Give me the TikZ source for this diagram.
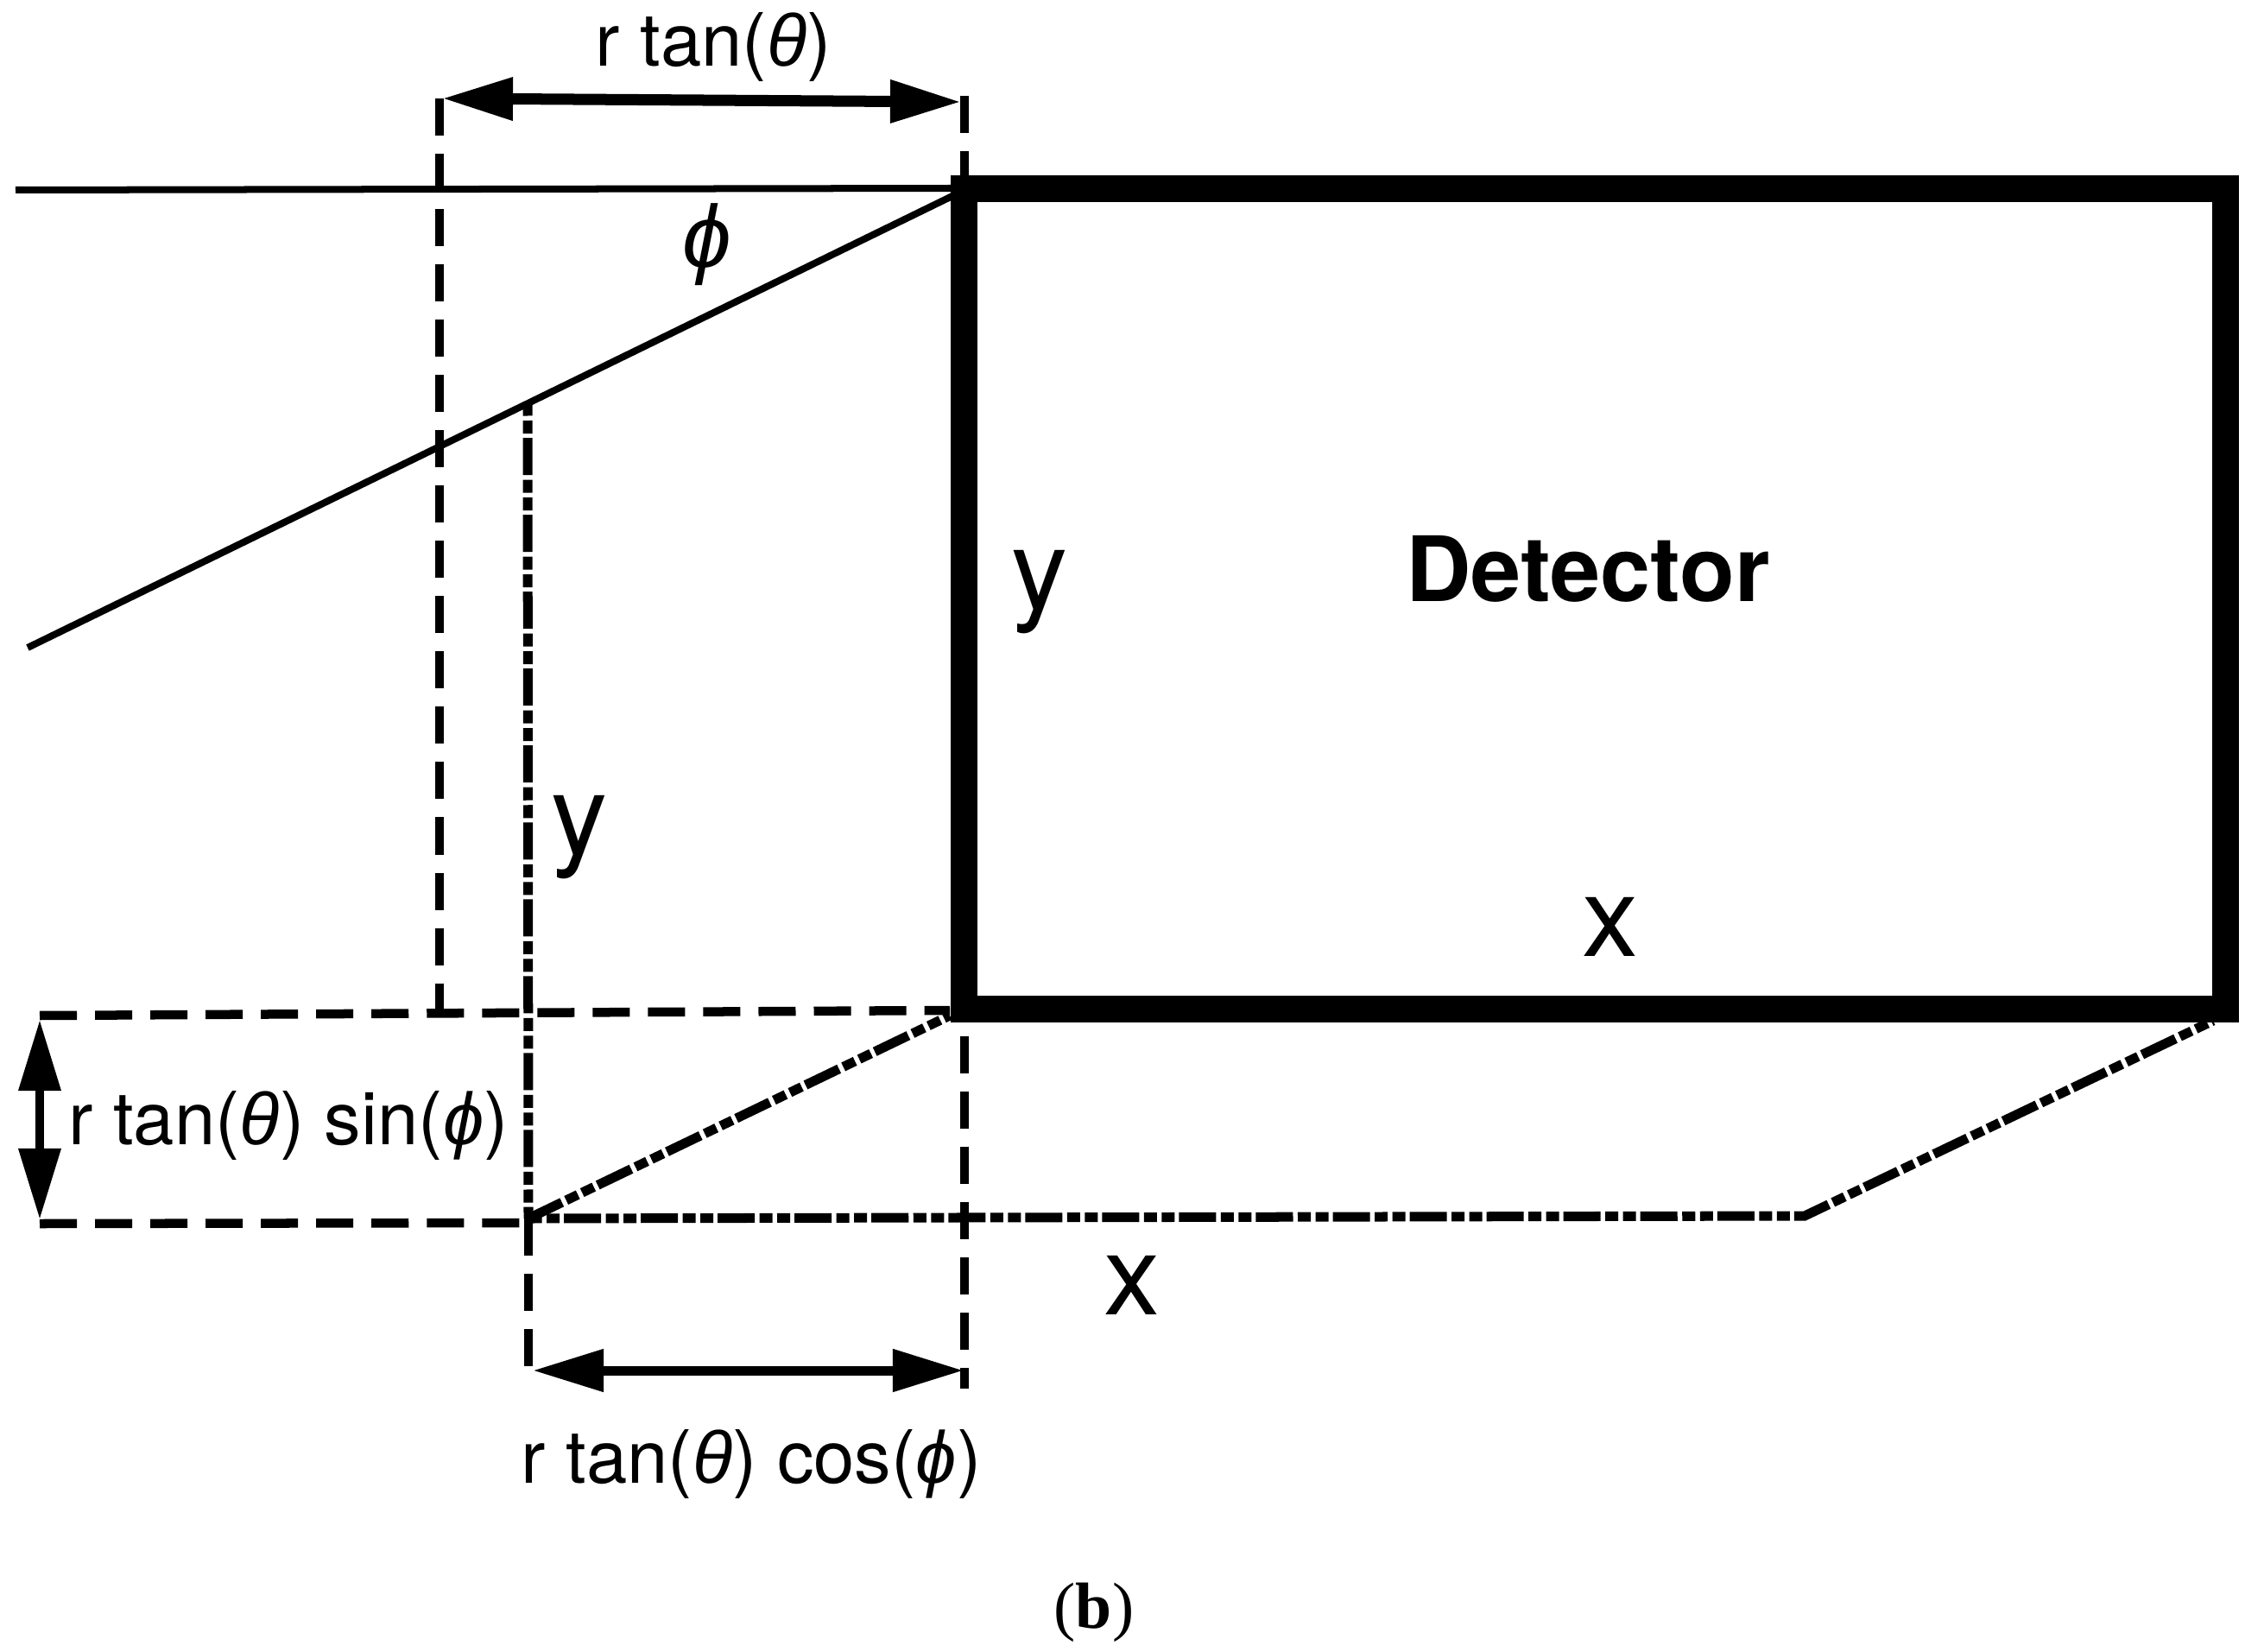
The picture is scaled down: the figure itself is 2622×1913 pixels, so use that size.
\documentclass[tikz,border=0pt]{standalone}
\usepackage{fontspec}
\setmainfont{TeX Gyre Heros}
\newfontfamily\capfont{Liberation Serif}
\newfontfamily\grk{Liberation Sans}
\usetikzlibrary{arrows.meta}
\tikzset{
  plain/.style={line width=0.08cm,black},
  dashline/.style={line width=0.105cm,dash pattern=on 0.43cm off 0.21cm},
  dotline/.style={line width=0.11cm,dash pattern=on 0.43cm off 0.055cm on 0.15cm off 0.055cm on 0.15cm off 0.05cm},
  dim/.style={line width=0.11cm,{Triangle[length=0.82cm,width=0.47cm]}-{Triangle[length=0.82cm,width=0.47cm]}},
  det/.style={line width=0.31cm,draw,miter limit=10},
  lab/.style={anchor=base,inner sep=0pt,font=\fontsize{24.2pt}{28pt}\selectfont},
  big/.style={anchor=base,inner sep=0pt,font=\fontsize{37pt}{42pt}\selectfont},
}
\newcommand{\tht}{{\grk\itshape θ}}
\newcommand{\phk}{{\grk\itshape ϕ}}
\begin{document}
\begin{tikzpicture}[x=0.01cm,y=-0.01cm]
\useasboundingbox (0,0) rectangle (2622,1913);
\coordinate (hl) at (18,220);
\coordinate (hr) at (1105,218);
\coordinate (sl) at (32,750);
\coordinate (sr) at (1105,226);
\coordinate (tl) at (509,114);
\coordinate (tr) at (1117,111);
\coordinate (bl) at (509,1170);
\coordinate (br) at (1117,1608);
\coordinate (ta) at (512,114);
\coordinate (tb) at (1113,118);
\coordinate (vt) at (611,468);
\coordinate (vm) at (612,1411);
\coordinate (vb) at (612,1596);
\coordinate (ul) at (46,1176);
\coordinate (ur) at (1100,1170);
\coordinate (ll) at (46,1417);
\coordinate (lr) at (608,1416);
\coordinate (p1) at (1100,1176);
\coordinate (p2) at (2090,1408);
\coordinate (p3) at (2563,1182);
\coordinate (ba) at (617,1587);
\coordinate (bb) at (1116,1587);
\coordinate (la) at (46,1181);
\coordinate (lb) at (46,1412);

\draw[plain] (hl) -- (hr);
\draw[plain] (sl) -- (sr);
\draw[dashline] (tl) -- (bl);
\draw[dashline] (tr) -- (br);
\draw[dashline] (vm) -- (vb);
\draw[dotline,dash phase=0.50cm] (vt) -- (vm);
\draw[dashline] (ul) -- (ur);
\draw[dashline] (ll) -- (lr);
\draw[dotline] (vm) -- (p1);
\draw[dotline,dash phase=0.48cm] (vm) -- (p2) -- (p3);
\draw[dim,line width=0.13cm] (ta) -- (tb);
\draw[dim] (ba) -- (bb);
\draw[dim,line width=0.1cm] (la) -- (lb);
\node[det,inner sep=0pt,rectangle,minimum width=14.6cm,minimum height=9.49cm] (detbox) at (1847,693.5) {};
\node[anchor=base,inner sep=0pt,font=\fontsize{29.7pt}{34pt}\selectfont\bfseries] (detlab) at (1839,697) {Detector};
\node[lab] (t1) at (826,77) {r tan(\tht)};
\node[lab] (t2) at (334,1325) {r tan(\tht) sin(\phk)};
\node[lab] (t3) at (870,1717) {r tan(\tht) cos(\phk)};
\node[anchor=base,inner sep=0pt,font=\fontsize{29pt}{34pt}\selectfont] (phi) at (819,310) {\phk};
\node[big] (y1) at (1204,706) {y};
\node[big] (y2) at (671,989) {y};
\node[big] (x1) at (1865,1107) {x};
\node[big] (x2) at (1311,1522) {x};
\node[anchor=base,inner sep=0pt,font=\capfont\fontsize{21.5pt}{24pt}\selectfont] (cap) at (1267,1885) {({\bfseries b})};
\end{tikzpicture}
\end{document}
